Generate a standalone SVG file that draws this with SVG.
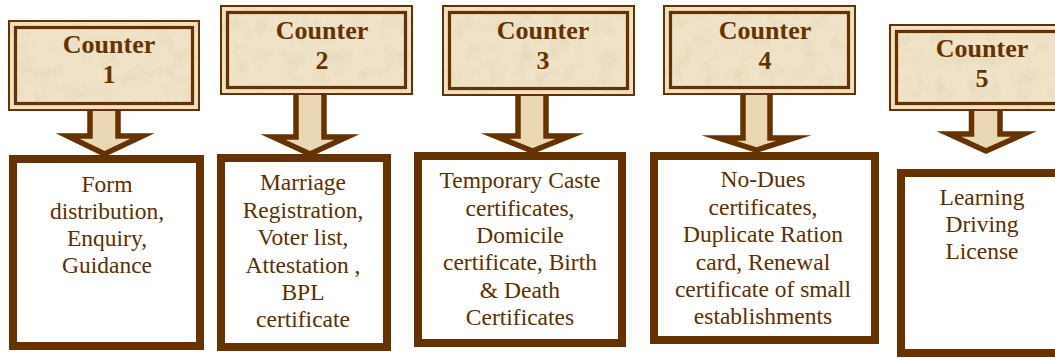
<svg xmlns="http://www.w3.org/2000/svg" width="1055" height="358" viewBox="0 0 1055 358">
<defs>
<filter id="tex" x="0" y="0" width="1" height="1" color-interpolation-filters="sRGB">
<feTurbulence type="fractalNoise" baseFrequency="0.06" numOctaves="3" seed="7" result="n"/>
<feColorMatrix in="n" type="matrix" values="0 0 0 0 0.88  0 0 0 0 0.81  0 0 0 0 0.69  0 0 0 -0.9 0.5" result="spots"/>
<feComposite in="spots" in2="SourceGraphic" operator="atop"/>
</filter>
</defs>
<style>
.cbox{fill:#efe2c6;stroke:#663300;stroke-width:2}
.tx{fill:#efe2c6;filter:url(#tex)}
.cin{fill:none;stroke:#663300;stroke-width:3.2}
.ttl{font-family:"Liberation Serif",serif;font-weight:bold;font-size:26px;fill:#663300;text-anchor:middle}
.box{fill:#ffffff;stroke:#663300;stroke-width:8}
.txt{font-family:"Liberation Serif",serif;font-size:23.5px;fill:#5e2f00;text-anchor:middle}
.arr{fill:#ead8b4;stroke:#663300;stroke-width:5.5;stroke-linejoin:miter;stroke-miterlimit:10}
</style>
<rect width="1055" height="358" fill="#ffffff"/>
<g id="connectors">
<path class="arr" d="M90,110 V136 H67.5 L104.5,154 L142.5,136 H118 V110"/>
<path class="arr" d="M296,94 V137 H273 L310,154 L347,137 H324 V94"/>
<path class="arr" d="M518,95 V136 H495 L532.5,151 L570,136 H546 V95"/>
<path class="arr" d="M743,94 V138 H719 L756.5,150 L794,138 H770 V94"/>
<path class="arr" d="M971.5,110 V134 H949 L986,151 L1024,134 H1000 V110"/>
</g>
<g id="counter1">
<rect class="cbox" x="9" y="21" width="190" height="89"/>
<rect class="tx" x="10" y="22" width="188" height="87"/>
<rect class="cin" x="15.5" y="27.5" width="177" height="76"/>
<text class="ttl" x="109" y="53">Counter</text>
<text class="ttl" x="109" y="83">1</text>
</g>
<g id="counter2">
<rect class="cbox" x="221" y="6" width="191" height="88"/>
<rect class="tx" x="222" y="7" width="189" height="86"/>
<rect class="cin" x="227.5" y="12.5" width="178" height="75"/>
<text class="ttl" x="322" y="39">Counter</text>
<text class="ttl" x="322" y="69">2</text>
</g>
<g id="counter3">
<rect class="cbox" x="443" y="6" width="191" height="89"/>
<rect class="tx" x="444" y="7" width="189" height="87"/>
<rect class="cin" x="449.5" y="12.5" width="178" height="76"/>
<text class="ttl" x="543" y="39">Counter</text>
<text class="ttl" x="543" y="69">3</text>
</g>
<g id="counter4">
<rect class="cbox" x="664" y="6" width="191" height="88"/>
<rect class="tx" x="665" y="7" width="189" height="86"/>
<rect class="cin" x="670.5" y="12.5" width="178" height="75"/>
<text class="ttl" x="765" y="39">Counter</text>
<text class="ttl" x="765" y="69">4</text>
</g>
<g id="counter5">
<rect class="cbox" x="890" y="25" width="191" height="85"/>
<rect class="tx" x="891" y="26" width="189" height="83"/>
<rect class="cin" x="896.5" y="31.5" width="178" height="72"/>
<text class="ttl" x="982" y="57">Counter</text>
<text class="ttl" x="982" y="87">5</text>
</g>
<g id="box1">
<rect class="box" x="13" y="159" width="187" height="187"/>
<text class="txt" x="107" y="192">Form</text>
<text class="txt" x="107" y="219">distribution,</text>
<text class="txt" x="107" y="246">Enquiry,</text>
<text class="txt" x="107" y="273">Guidance</text>
</g>
<g id="box2">
<rect class="box" x="221" y="158" width="166" height="189"/>
<text class="txt" x="303" y="190">Marriage</text>
<text class="txt" x="303" y="218">Registration,</text>
<text class="txt" x="303" y="245">Voter list,</text>
<text class="txt" x="303" y="273">Attestation ,</text>
<text class="txt" x="303" y="300">BPL</text>
<text class="txt" x="303" y="327">certificate</text>
</g>
<g id="box3">
<rect class="box" x="418" y="156" width="204" height="187"/>
<text class="txt" x="520" y="188">Temporary Caste</text>
<text class="txt" x="520" y="216">certificates,</text>
<text class="txt" x="520" y="243">Domicile</text>
<text class="txt" x="520" y="270">certificate, Birth</text>
<text class="txt" x="520" y="298">&amp; Death</text>
<text class="txt" x="520" y="325">Certificates</text>
</g>
<g id="box4">
<rect class="box" x="654" y="156" width="221" height="184"/>
<text class="txt" x="763" y="187">No-Dues</text>
<text class="txt" x="763" y="215">certificates,</text>
<text class="txt" x="763" y="242">Duplicate Ration</text>
<text class="txt" x="763" y="270">card, Renewal</text>
<text class="txt" x="763" y="297">certificate of small</text>
<text class="txt" x="763" y="324">establishments</text>
</g>
<g id="box5">
<rect class="box" x="901" y="173" width="190" height="180"/>
<text class="txt" x="982" y="205">Learning</text>
<text class="txt" x="982" y="232">Driving</text>
<text class="txt" x="982" y="259">License</text>
</g>
</svg>
